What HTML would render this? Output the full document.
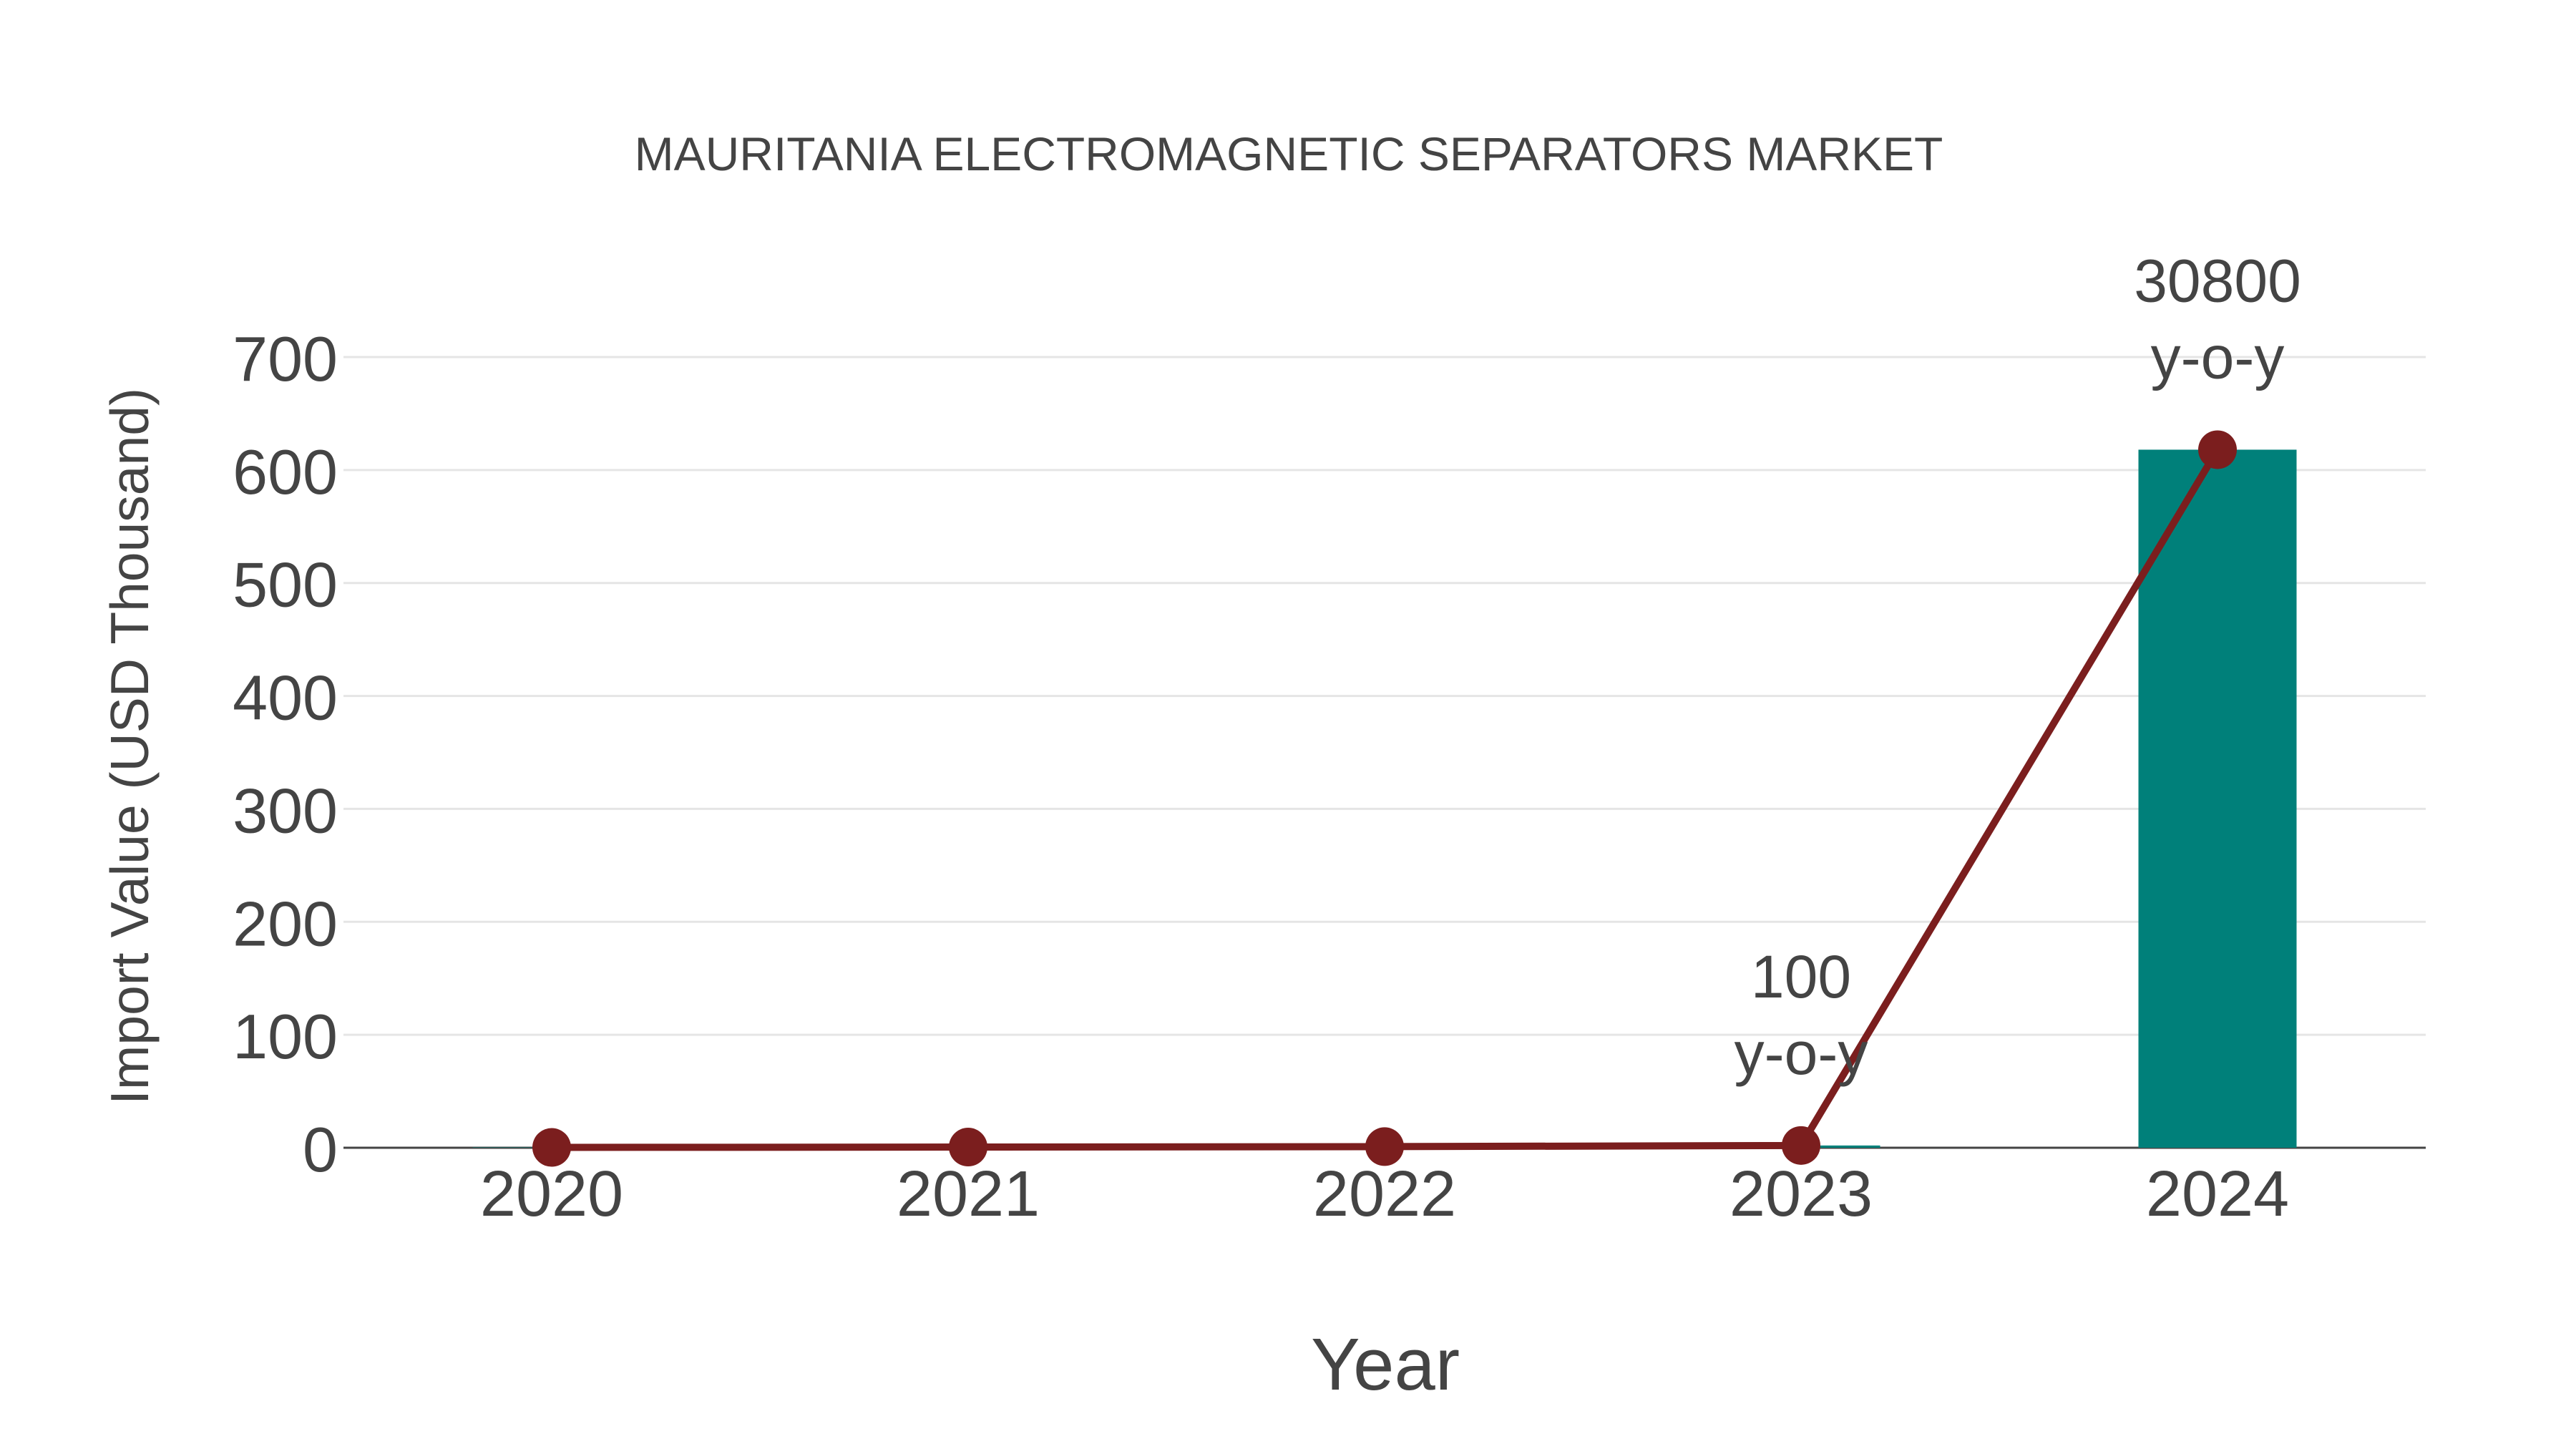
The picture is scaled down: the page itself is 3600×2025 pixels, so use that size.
<!DOCTYPE html>
<html><head><meta charset="utf-8"><style>
html,body{margin:0;padding:0;background:#fff;width:3600px;height:2025px;overflow:hidden}
text{font-family:"Liberation Sans",sans-serif;fill:#444}
</style></head><body>
<svg id="chart" width="3600" height="2025" viewBox="0 0 3600 2025" xmlns="http://www.w3.org/2000/svg">
<text x="1801" y="238" font-size="66" text-anchor="middle">MAURITANIA ELECTROMAGNETIC SEPARATORS MARKET</text>
<g id="grid"></g>
<g id="bars"></g>
<g id="line"></g>
<g id="ann"></g>
<text x="1936" y="1942" font-size="103" text-anchor="middle">Year</text>
<text transform="translate(207,1043) rotate(-90)" font-size="75" text-anchor="middle">Import Value (USD Thousand)</text>
</svg>
<script>
const categories = ["2020","2021","2022","2023","2024"];
const values = [0.3, 0.6, 1, 2, 618];
const yTicks = [0,100,200,300,400,500,600,700];
const annotationLabels = [null,null,null,"100","30800"];

const NS="http://www.w3.org/2000/svg";
const X0=480, X1=3390, Y0=1604, PER=(1604-499)/700;
const band=(X1-X0)/categories.length;
function xs(i){return X0+band*(i+0.5);}
function ys(v){return Y0-v*PER;}
function mk(tag,attrs,parent){const e=document.createElementNS(NS,tag);for(const k in attrs)e.setAttribute(k,attrs[k]);parent.appendChild(e);return e;}
const grid=document.getElementById('grid'),bars=document.getElementById('bars'),line=document.getElementById('line'),ann=document.getElementById('ann');
yTicks.forEach(t=>{
  if(t>0){const l=mk('line',{x1:X0,x2:X1,y1:ys(t),y2:ys(t),stroke:'#e5e5e5','stroke-width':3},grid);
  
  }
  const tx=mk('text',{x:X0-8,y:ys(t)+33,'font-size':88,'text-anchor':'end'},grid);
  tx.textContent=t;
  
  
});
categories.forEach((c,i)=>{
  const tx=mk('text',{x:xs(i),y:1699,'font-size':90,'text-anchor':'middle'},grid);
  tx.textContent=c;
  
  
  const w=221;
  const r=mk('rect',{x:xs(i)-w/2,y:ys(values[i]),width:w,height:Math.max(0,Y0-ys(values[i])),fill:'#00807a'},bars);
  
  
});
const ax=mk('line',{x1:X0,x2:X1,y1:Y0,y2:Y0,stroke:'#444','stroke-width':3},grid);


const pts=values.map((v,i)=>xs(i)+','+ys(v)).join(' ');
const pl=mk('polyline',{points:pts,fill:'none',stroke:'#7b1e1e','stroke-width':10,'stroke-linejoin':'round'},line);


values.forEach((v,i)=>{
  const c=mk('circle',{cx:xs(i),cy:ys(v),r:27,fill:'#7b1e1e'},line);
  
  
  if(annotationLabels[i]){
    const t1=mk('text',{x:xs(i),y:ys(v)-207,'font-size':84,'text-anchor':'middle'},ann);
    t1.textContent=annotationLabels[i];
    
    
    const t2=mk('text',{x:xs(i),y:ys(v)-100,'font-size':84,'text-anchor':'middle'},ann);
    t2.textContent='y-o-y';
    
    
  }
});
</script>
</body></html>
